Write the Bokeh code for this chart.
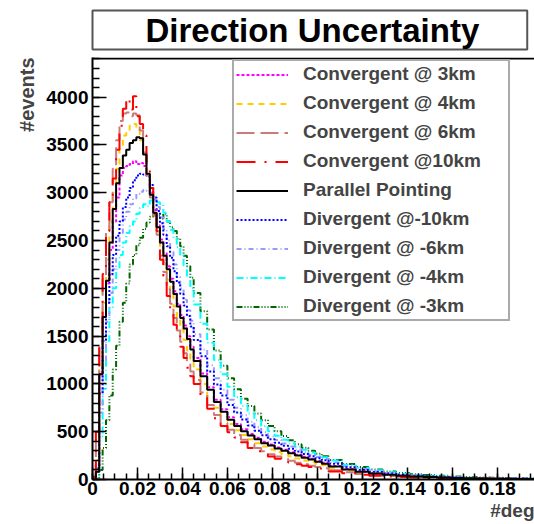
import numpy as np
from bokeh.plotting import figure
from bokeh.models import (Range1d, FixedTicker, SingleIntervalTicker, Legend, LegendItem,
                          Title, Span, CustomJSTickFormatter)
from bokeh.embed import file_html
from bokeh.resources import INLINE

# ---------------- data ----------------
# histogram bin edges: 0.0015 wide up to 0.045, 0.003 up to 0.105, 0.006 up to 0.201
EDGES = np.round(np.concatenate([np.arange(30) * 0.0015,
                                 0.045 + np.arange(20) * 0.003,
                                 0.105 + np.arange(17) * 0.006]), 5)

CONV_3KM = [10, 150, 1100, 1700, 2050, 2400, 2700, 2950, 3180, 3260, 3280, 3300, 3330, 3300, 3310,
            3280, 3180, 3000, 2820, 2660, 2510, 2370, 2230, 2100, 1970, 1840, 1720, 1610, 1500, 1390,
            1270, 1110, 965, 835, 735, 650, 580, 525, 477, 436, 396, 365, 336, 310, 285, 260, 237, 216, 194, 174,
            142, 110, 85, 67, 53, 42, 34, 27, 22, 18, 14, 12, 10, 8, 7, 6]
CONV_4KM = [10, 200, 1200, 1850, 2300, 2700, 3000, 3250, 3500, 3600, 3650, 3700, 3720, 3680, 3550,
            3400, 3200, 2980, 2790, 2590, 2400, 2250, 2090, 1950, 1810, 1680, 1570, 1460, 1350, 1260,
            1150, 1000, 870, 750, 655, 580, 515, 465, 420, 380, 345, 315, 288, 264, 242, 220, 200, 182, 165, 150,
            122, 95, 73, 58, 46, 36, 29, 23, 19, 15, 12, 10, 8, 7, 6, 5]
CONV_6KM = [20, 450, 1400, 2100, 2600, 2900, 3250, 3550, 3750, 3830, 3840, 3800, 3830, 3810, 3650,
            3420, 3180, 2950, 2760, 2560, 2340, 2170, 1990, 1840, 1690, 1560, 1440, 1320, 1220, 1130,
            1040, 910, 780, 675, 590, 520, 465, 415, 370, 330, 295, 265, 240, 218, 196, 176, 160, 145, 130, 118,
            97, 75, 58, 46, 36, 29, 23, 18, 15, 12, 10, 8, 7, 6, 5, 4]
CONV_10KM = [30, 500, 1450, 2150, 2600, 2900, 3150, 3450, 3700, 3880, 3990, 3870, 4010, 3800, 3720,
             3600, 3300, 3050, 2800, 2600, 2300, 2130, 1920, 1780, 1620, 1500, 1390, 1270, 1170, 1080,
             1000, 870, 740, 640, 560, 495, 440, 390, 330, 295, 265, 240, 218, 198, 178, 160, 145, 130, 115, 105,
             85, 65, 50, 40, 31, 25, 20, 16, 13, 10, 8, 7, 6, 5, 4, 3]
PARALLEL = [0, 80, 1100, 1700, 2080, 2480, 2830, 3100, 3260, 3390, 3450, 3520, 3550, 3580, 3570,
            3400, 3200, 2980, 2790, 2640, 2480, 2340, 2200, 2070, 1940, 1810, 1690, 1580, 1470, 1360,
            1240, 1080, 940, 810, 710, 625, 560, 505, 460, 420, 380, 355, 325, 300, 275, 250, 228, 208, 185, 165,
            135, 105, 80, 63, 50, 40, 32, 26, 21, 17, 14, 11, 9, 7, 6, 5]
DIV_10KM = [5, 120, 900, 1450, 1850, 2150, 2350, 2550, 2700, 2850, 2950, 3050, 3130, 3180, 3200,
            3190, 3170, 3080, 2950, 2810, 2680, 2560, 2440, 2320, 2180, 2060, 1940, 1820, 1710, 1600,
            1460, 1290, 1130, 995, 880, 780, 700, 628, 566, 510, 462, 421, 385, 352, 322, 294, 268, 244, 222, 201,
            165, 128, 100, 79, 63, 50, 40, 32, 26, 21, 17, 14, 11, 9, 8, 7]
DIV_6KM = [3, 80, 700, 1250, 1650, 1950, 2200, 2400, 2580, 2720, 2800, 2880, 2940, 2990, 3010,
           3030, 3020, 3000, 2930, 2850, 2740, 2620, 2500, 2380, 2250, 2120, 2000, 1880, 1770, 1660,
           1520, 1360, 1195, 1060, 940, 835, 750, 672, 605, 546, 495, 451, 412, 376, 344, 314, 286, 260, 236, 214,
           178, 139, 109, 86, 68, 54, 43, 35, 28, 23, 19, 15, 12, 10, 9, 8]
DIV_4KM = [2, 40, 450, 950, 1450, 1800, 2000, 2200, 2350, 2480, 2580, 2650, 2700, 2780, 2840,
           2880, 2860, 2920, 2930, 2900, 2880, 2790, 2700, 2610, 2520, 2430, 2350, 2240, 2130, 2000,
           1830, 1630, 1430, 1250, 1100, 970, 860, 770, 690, 620, 560, 505, 458, 415, 377, 342, 311, 283, 257, 233,
           198, 155, 122, 96, 76, 61, 49, 39, 31, 26, 21, 17, 14, 12, 10, 9]
DIV_3KM = [0, 10, 100, 330, 620, 880, 1150, 1400, 1650, 1850, 2050, 2250, 2350, 2450, 2530,
           2620, 2690, 2750, 2780, 2760, 2730, 2780, 2700, 2640, 2600, 2520, 2440, 2340, 2230, 2110,
           1950, 1760, 1570, 1350, 1190, 1060, 945, 845, 770, 690, 620, 560, 505, 455, 410, 370, 333, 300, 270, 243,
           205, 163, 130, 104, 84, 68, 56, 46, 38, 31, 26, 22, 19, 16, 14, 12]

LABELS = ["Convergent @ 3km", "Convergent @ 4km", "Convergent @ 6km", "Convergent @10km",
          "Parallel Pointing", "Divergent @-10km", "Divergent @ -6km", "Divergent @ -4km",
          "Divergent @ -3km"]
SERIES = [CONV_3KM, CONV_4KM, CONV_6KM, CONV_10KM, PARALLEL, DIV_10KM, DIV_6KM, DIV_4KM, DIV_3KM]
COLORS = ["#ff00ff", "#ffcc00", "#cc7b7b", "#ff0000", "#000000", "#0000ff", "#9999ff", "#00ffff", "#006600"]
DASHES = ["3 2", "6 5", "18 6", "19 9 2 9", "solid", "2 2", "5 3 1 3", "7 3 1 3", "6 2 1 2 1 2 1 2"]

XTICKS = [0, 0.02, 0.04, 0.06, 0.08, 0.1, 0.12, 0.14, 0.16, 0.18, 0.2]
XMINOR = [round(i * 0.005, 3) for i in range(41)]

TITLE = "Direction Uncertainty"
YTITLE = "#events"
XTITLE = "#deg"

# ---------------- geometry ----------------
W, H = 534, 524
FL, FT, FB = 92, 57, 479          # frame left / top / bottom in pixels
XMAX, YMAX = 0.19658, 4415

def px2y(py):
    return (FB - py) / (FB - FT) * YMAX

FONT = "Liberation Sans"

p = figure(width=W, height=H, output_backend="svg", toolbar_location=None,
           x_range=Range1d(0, XMAX), y_range=Range1d(0, YMAX),
           min_border_left=FL, min_border_right=0, min_border_top=FT, min_border_bottom=H - FB)
p.grid.visible = False
p.outline_line_color = None
p.background_fill_color = "white"
p.border_fill_color = "white"

# top edge of the frame
p.add_layout(Span(location=px2y(58), dimension="width", line_color="black", line_width=2))

renderers = {}
order = [8, 7, 6, 5, 0, 1, 2, 3, 4]
for i in order:
    vals = SERIES[i]
    r = p.step(x=list(EDGES), y=list(vals) + [vals[-1]], mode="after",
               line_color=COLORS[i], line_width=2, line_dash=DASHES[i])
    renderers[i] = r

# axes
xa = p.xaxis[0]
xa.ticker = FixedTicker(ticks=XTICKS, minor_ticks=XMINOR)
xa.formatter = CustomJSTickFormatter(code="return String(parseFloat(tick.toFixed(3)));")
ya = p.yaxis[0]
ya.ticker = SingleIntervalTicker(interval=500, num_minor_ticks=5)
for ax in (xa, ya):
    ax.axis_line_width = 2
    ax.axis_line_color = "black"
    ax.major_tick_line_width = 1.5
    ax.minor_tick_line_width = 1.5
    ax.major_tick_out = 0
    ax.minor_tick_out = 0
    ax.major_label_text_font = FONT
    ax.major_label_text_font_style = "bold"
    ax.major_label_text_font_size = "19px"
    ax.major_label_text_color = "black"
    ax.major_label_standoff = 4
xa.major_label_standoff = 2
xa.major_tick_in = 12
xa.minor_tick_in = 6
ya.major_tick_in = 14
ya.minor_tick_in = 7

# legend
items = [LegendItem(label=LABELS[i], renderers=[renderers[i]]) for i in range(len(LABELS))]
legend = Legend(items=items, location=(140, FB - 321))
legend.label_text_font = FONT
legend.label_text_font_style = "bold"
legend.label_text_font_size = "19px"
legend.glyph_width = 52
legend.glyph_height = 21
legend.label_height = 21
legend.label_width = 203
legend.label_standoff = 15
legend.spacing = 7
legend.padding = 2
legend.margin = 0
legend.border_line_color = "#555555"
legend.border_line_width = 2
legend.background_fill_color = "white"
legend.background_fill_alpha = 1
p.add_layout(legend)

# title box
p.title.text = TITLE
p.title.align = "left"
p.title.offset = 0
p.title.vertical_align = "bottom"
p.title.standoff = 16
p.title.text_font = FONT
p.title.text_font_style = "bold"
p.title.text_font_size = "33px"
p.title.text_color = "black"
p.title.border_line_color = "#555555"
p.title.border_line_width = 2
p.title.background_fill_color = "white"
p.title.padding = dict(left=53, right=48, top=1, bottom=1)

# axis titles
p.add_layout(Title(text=YTITLE, align="right", standoff=12, text_font=FONT,
                   text_font_style="bold", text_font_size="20px"), "left")
p.add_layout(Title(text=XTITLE, align="right", standoff=0, text_font=FONT,
                   text_font_style="bold", text_font_size="19px"), "below")

open("out.html", "w").write(file_html(p, INLINE))
